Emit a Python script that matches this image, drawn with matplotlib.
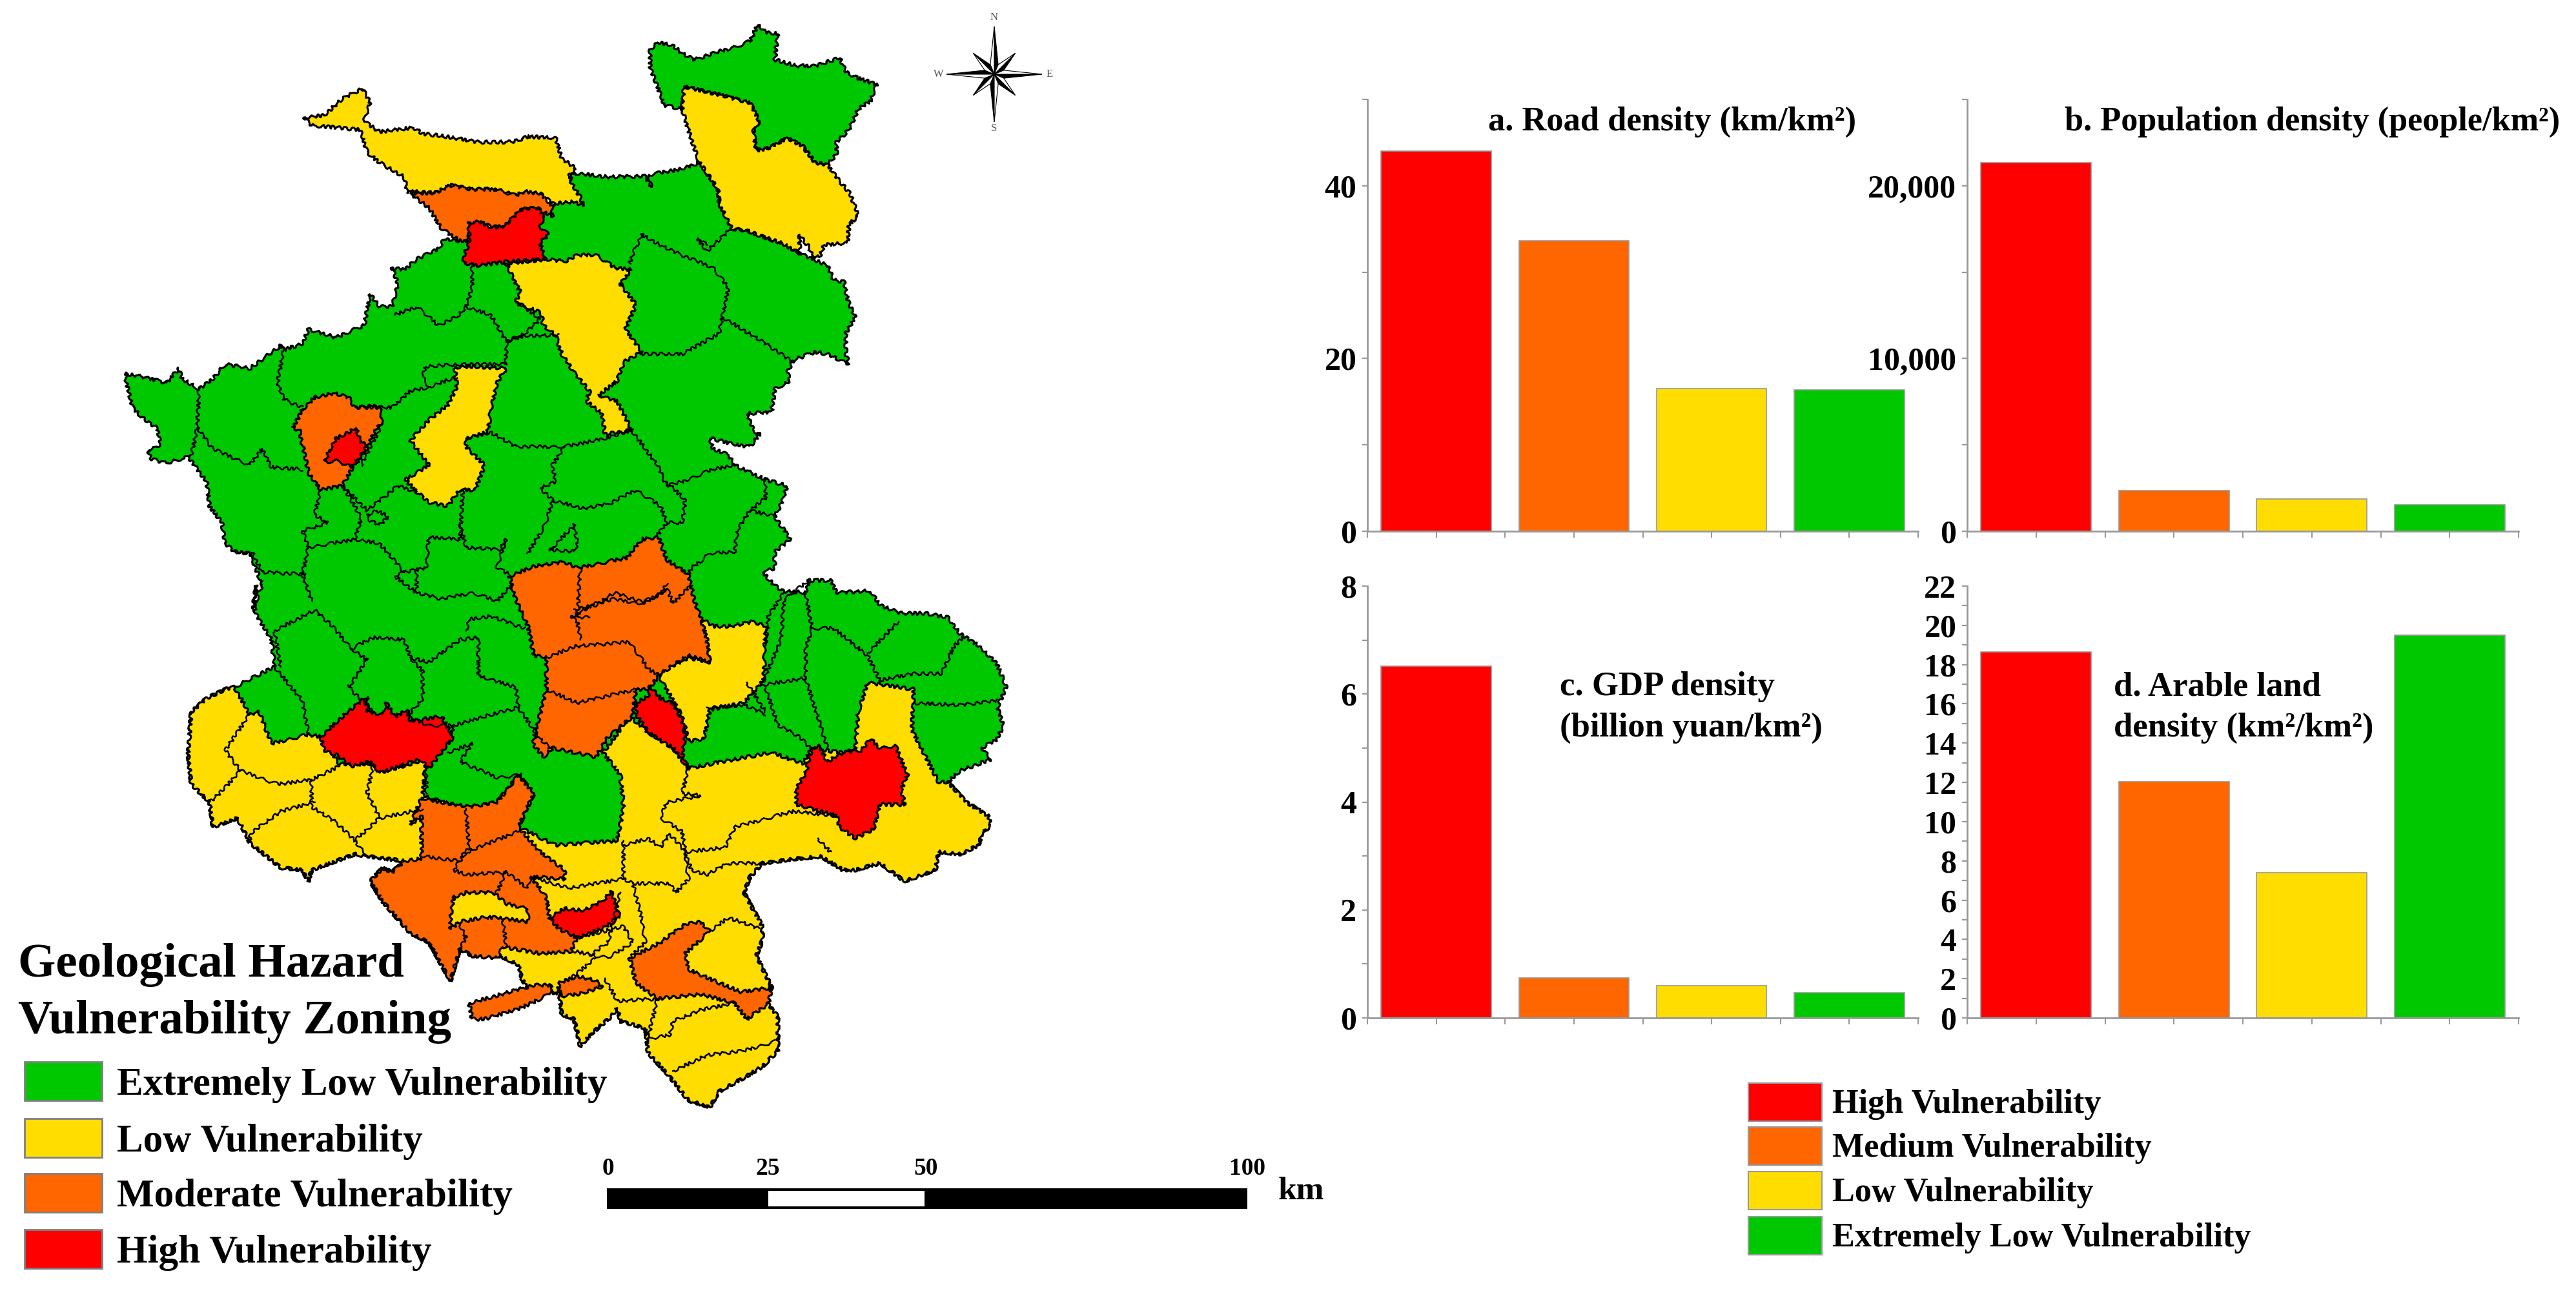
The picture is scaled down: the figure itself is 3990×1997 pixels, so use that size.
import numpy as np
import matplotlib
matplotlib.use("Agg")
import matplotlib.pyplot as plt
from matplotlib.patches import Polygon, Rectangle

plt.rcParams["font.family"] = ["Liberation Serif", "DejaVu Serif"]
plt.rcParams["font.weight"] = "bold"

RED, ORANGE, YELLOW, GREEN = "#FF0000", "#FF6600", "#FFDD00", "#00C800"
BAR_COLORS = [RED, ORANGE, YELLOW, GREEN]

# bar values
road = [44.05, 33.6, 16.5, 16.4]
population = [21340, 2350, 1850, 1530]
gdp = [6.52, 0.74, 0.595, 0.47]
arable = [18.66, 12.04, 7.40, 19.51]

road_ticks = [0, 10, 20, 30, 40, 50]
road_labels = ["0", "", "20", "", "40", ""]
pop_ticks = [0, 5000, 10000, 15000, 20000, 25000]
pop_labels = ["0", "", "10,000", "", "20,000", ""]
gdp_ticks = [0, 1, 2, 3, 4, 5, 6, 7, 8]
gdp_labels = ["0", "", "2", "", "4", "", "6", "", "8"]
ara_ticks = list(range(23))
ara_labels = [str(i) if i % 2 == 0 else "" for i in ara_ticks]

map_legend = ["Extremely Low Vulnerability", "Low Vulnerability", "Moderate Vulnerability", "High Vulnerability"]
bar_legend = ["High Vulnerability", "Medium Vulnerability", "Low Vulnerability", "Extremely Low Vulnerability"]

# map outlines, two tracing frames (N = upper part, S = lower part)
north_rim = [(825,420),(880,430),(940,428),(950,455),(945,425),(1000,410),(1028,395),(1058,460),(1060,495),(1080,555),
             (1105,560),(1130,575),(1160,590),(1190,615),(1235,645),(1245,680),(1262,685),(1268,730),(1280,770),(1265,810),
             (1265,860),(1270,885),(1235,860),(1215,855),(1180,875),(1170,905),(1175,925),(1150,945),(1145,1000),(1105,1005),
             (1115,1045),(1125,1055),(1110,1085),(1085,1080),(1060,1070),(1045,1065),(1050,1090),(1075,1105),(1085,1130),
             (1135,1165),(1170,1180),(1160,1225),(1150,1255),(1175,1310),(1150,1340),(1150,1380),(1130,1390),(1145,1415),
             (1160,1435),(1200,1440),(1205,1410),(1240,1410),(1250,1440),(1305,1435),(1320,1470),(1355,1490),(1395,1490),
             (1430,1500),(1450,1540),(1480,1568)]
east_rim = [(1510,185),(1525,235),(1510,280),(1520,320),(1510,350),(1485,370),(1500,395),(1480,405),(1450,420),(1430,445),(1460,490)]
south_rim = [(1495,520),(1500,540),(1485,560),(1480,585),(1450,605),(1415,600),(1410,640),(1360,665),(1320,625),(1280,640),
             (1260,640),(1225,610),(1185,615),(1130,625),(1110,655),(1100,690),(1130,765),(1130,795),(1120,830),(1145,900),
             (1135,930),(1155,965),(1155,1040),(1130,1075),(1100,1100),(1060,1130),(1045,1165),(1010,1150),(975,1090),(945,1045),
             (940,990),(900,975),(895,945),(885,965),(855,1000),(835,1030),(825,970),(805,960),(800,900),(795,915),(780,900),
             (760,925),(740,880),(735,850),(705,830),(660,830),(640,815),(625,885),(610,850),(590,800),(560,780),(515,710),
             (495,665),(515,635),(530,645),(550,620),(520,615),(470,605),(400,640),(395,665),(385,640),(350,635),(300,580),
             (280,525),(240,545),(235,490),(205,450),(200,385),(205,290),(230,260),(260,240),(275,235)]
west_s = [(340,190),(335,130),(308,70),(310,10)]
west_n = [(305,1480),(320,1420),(300,1345),(275,1340),(260,1320),(255,1270),(235,1230),(230,1170),(200,1110),(165,1125),
          (140,1115),(135,1095),(155,1080),(150,1040),(130,1020),(110,990),(97,908),(125,915),(165,930),(185,895),(190,920),
          (218,945),(240,920),(260,885),(300,895),(350,840),(355,850),(385,835),(395,800),(440,820),(485,790),(495,715),
          (510,745),(530,745),(540,690),(530,650),(550,655),(570,630),(605,605),(615,580),(640,585),(700,560),(790,500)]

ne_green = [(948,120),(960,103),(985,110),(1000,130),(1020,145),(1060,125),(1090,112),(1110,100),(1122,60),(1135,78),(1155,82),
            (1150,145),(1185,160),(1215,160),(1255,140),(1265,175),(1285,190),(1315,205),(1305,245),(1285,265),(1270,315),
            (1250,345),(1250,375),(1235,400),(1215,395),(1195,355),(1170,335),(1140,360),(1120,365),(1115,320),(1125,295),
            (1110,250),(1060,230),(1005,210),(1000,265),(970,255),(960,210),(948,165)]
ne_yellow = [(1003,210),(1060,230),(1110,250),(1125,295),(1115,320),(1120,365),(1140,360),(1170,335),(1195,355),(1215,395),
             (1235,400),(1255,440),(1272,470),(1285,525),(1270,545),(1268,590),(1230,595),(1222,625),(1210,620),(1205,600),
             (1190,570),(1190,615),(1160,590),(1130,575),(1105,560),(1080,555),(1060,495),(1058,460),(1040,420),(1028,395),
             (1015,340),(1000,265)]
top_yellow = [(388,285),(420,280),(450,240),(482,215),(495,250),(485,295),(510,320),(565,310),(580,325),(610,330),(670,345),
              (725,345),(750,332),(795,335),(805,385),(828,410),(815,430),(835,480),(840,500),(825,490),(790,495),(770,470),
              (745,470),(730,475),(700,460),(660,460),(625,450),(600,468),(555,465),(550,430),(510,395),(490,370),(478,315),
              (440,310),(400,305)]
mid_yellow = [(715,640),(780,630),(810,635),(830,620),(860,618),(890,650),(918,655),(900,690),(925,740),(908,800),(935,855),
              (905,880),(895,925),(865,960),(895,975),(918,1045),(875,1055),(870,1005),(845,975),(850,950),(825,905),(805,860),
              (795,815),(775,790),(772,760),(730,735),(738,710)]
west_yellow = [(632,892),(660,890),(715,895),(700,930),(690,1000),(685,1050),(650,1065),(650,1085),(680,1130),(665,1190),
               (640,1190),(620,1230),(590,1220),(570,1195),(552,1165),(590,1130),(560,1070),(590,1020),(620,985),(635,940)]
north_orange = [(560,470),(600,468),(625,450),(660,460),(700,460),(730,475),(745,465),(770,470),(790,500),(790,525),(775,515),
                (765,505),(740,510),(725,535),(710,553),(690,550),(672,540),(655,545),(655,585),(640,585),(610,555),(590,505)]
north_red = [(655,540),(672,538),(690,552),(712,550),(725,530),(740,508),(765,505),(778,525),(770,550),(783,570),(770,590),
             (778,630),(720,635),(670,645),(648,640),(645,625),(655,590)]
west_orange = [(385,995),(405,965),(435,955),(460,965),(470,990),(510,985),(515,1020),(500,1055),(490,1090),(465,1140),(450,1180),
               (415,1190),(395,1150),(388,1100),(380,1045),(370,1040)]
west_red = [(428,1095),(440,1065),(472,1040),(478,1070),(490,1085),(465,1135),(440,1120),(422,1122)]

center_orange_n = [(720,1400),(760,1375),(810,1365),(830,1380),(910,1355),(935,1310),(962,1305),(975,1360),(1010,1395),(1020,1460),(1030,1500)]
center_orange_s = [(1040,130),(1045,180),(1010,165),(965,205),(945,240),(925,240),(920,300),(880,345),(860,390),(790,370),(775,390),
                   (758,360),(780,240),(780,170),(760,165),(750,100),(730,40)]
center_yellow = [(1030,80),(1050,100),(1080,100),(1115,90),(1135,100),(1132,220),(1100,270),(1045,285),(1035,350),(1010,355),
                 (1000,300),(960,205),(1010,170),(1045,180)]
center_red = [(948,232),(965,260),(985,270),(1000,310),(1005,345),(1000,380),(1010,415),(985,370),(945,335),(925,295),(925,270),(945,255)]

yellow_top_s = [(275,235),(300,295),(315,290),(335,360),(395,340),(415,345),(445,405),(500,405),(510,425),(585,395),(580,475),
                (650,505),(700,490),(735,430),(760,470),(735,545),(795,585),(895,575),(905,500),(900,430),(872,380),(915,300),
                (945,335),(985,370),(1010,415),(1085,395),(1145,380),(1195,405),(1210,370),(1255,380),(1280,375),(1285,290),
                (1300,225),(1375,240),(1372,330),(1415,445),(1430,445),(1460,490)]
sw_orange = [(578,480),(610,490),(655,500),(700,490),(735,430),(760,470),(735,545),(770,600),(810,640),(810,660),(755,655),(780,700),
             (785,745),(815,770),(830,790),(820,820),(770,825),(710,810),(700,835),(660,830),(640,815),(625,885),(610,850),(590,800),
             (560,780),(515,710),(495,665),(515,635),(530,645),(550,620),(578,615),(578,520),(560,540)]
sw_hole = [(625,740),(630,700),(650,690),(695,690),(715,715),(750,725),(750,755),(700,745),(680,745),(640,755),(625,770)]
se_orange = [(915,835),(965,800),(1005,760),(1030,755),(1045,775),(1005,825),(1010,860),(1060,890),(1095,910),(1145,900),(1140,935),
             (1105,970),(1085,935),(1030,915),(960,925),(925,890)]
small_orange = [(800,905),(800,890),(830,875),(860,885),(870,900),(830,915),(805,920)]
strip_orange = [(655,935),(760,895),(790,895),(785,915),(740,945),(680,970),(660,970)]
west_red_s = [(415,345),(450,300),(490,255),(490,290),(515,295),(520,270),(535,300),(555,285),(560,310),(610,300),(630,345),
              (610,380),(590,415),(575,395),(510,425),(495,400),(465,410),(440,385),(420,375)]
east_red = [(1210,370),(1222,365),(1235,400),(1260,380),(1290,375),(1305,350),(1320,370),(1345,365),(1365,430),(1355,460),(1360,495),
            (1320,495),(1310,550),(1280,570),(1255,545),(1250,520),(1185,495),(1185,460),(1200,425)]
south_red = [(785,745),(810,725),(840,730),(870,710),(885,688),(900,745),(870,770),(830,790),(800,770)]

# county borders
borders_n = [
    [(925,600),(935,570),(970,600),(1000,620),(1050,650),(1075,700),(1065,770),(1060,810),(1000,860),(935,860)],
    [(925,600),(915,640)], [(1065,770),(1130,830),(1180,880)], [(1040,595),(1025,580),(1040,610),(1080,555)],
    [(660,645),(660,700),(650,745),(635,770),(605,790),(570,745),(535,765)],
    [(650,745),(690,765),(715,830)], [(735,735),(770,775),(745,810),(715,830),(715,885)], [(715,830),(745,815),(800,815)],
    [(355,850),(345,930),(355,970),(385,990)],
    [(715,885),(640,885),(585,890),(580,915),(590,940),(560,950),(530,990),(470,990)], [(590,940),(635,915)],
    [(218,945),(215,1040),(240,1090),(300,1130),(320,1090),(335,1135),(385,1140)], [(215,1040),(205,1110)],
    [(515,1030),(480,1130)],
    [(450,1180),(490,1240),(540,1180),(570,1195)],
    [(415,1190),(405,1250),(425,1270),(385,1290),(395,1330),(470,1310),(480,1260),(470,1230),(450,1180)],
    [(470,1310),(510,1320),(550,1390),(585,1380),(590,1305),(640,1310),(645,1190)],
    [(640,1270),(650,1330),(705,1335),(715,1310),(700,1380),(720,1395)],
    [(650,1065),(690,1050),(730,1085),(810,1085),(875,1065),(918,1045)],
    [(810,1085),(790,1130),(795,1170),(770,1185),(790,1215),(780,1270),(750,1345)],
    [(790,1215),(840,1235),(880,1225),(925,1190),(965,1230),(975,1270),(960,1300)],
    [(918,1045),(960,1130),(975,1180),(1000,1170),(1050,1140),(1085,1130)],
    [(975,1170),(1005,1215),(1000,1270),(975,1270)],
    [(1150,1255),(1110,1240),(1090,1285),(1085,1340),(1045,1345),(1015,1380),(1010,1395)], [(1135,1165),(1135,1210),(1110,1240)],
    [(395,1330),(385,1395),(400,1460)], [(275,1340),(305,1345),(320,1390),(390,1395)],
    [(550,1390),(535,1400),(570,1440),(610,1455),(660,1440),(700,1460),(725,1420)], [(570,1380),(570,1440)],
    [(490,1250),(505,1240),(525,1255),(510,1275),(495,1265),(490,1250)],
    [(790,1330),(825,1275),(830,1320),(825,1340),(785,1335),(790,1330)],
    [(1165,1440),(1140,1495),(1135,1568)], [(1200,1440),(1210,1525)],
    [(825,1480),(860,1470),(890,1440),(940,1465),(975,1430),(985,1465),(1015,1420)], [(850,1500),(830,1500),(835,1380)],
]
borders_s = [
    [(340,110),(405,65),(430,95),(465,150),(500,125),(550,130),(560,170),(590,180),(640,130),(670,125),(670,210),(730,235),(735,280),(680,300),(630,320),(625,345)],
    [(465,150),(490,175),(460,235),(500,290)], [(340,190),(385,265),(395,340)],
    [(650,110),(655,85),(690,78),(745,105)], [(560,170),(580,200),(580,260),(555,300),(590,320),(630,320)], [(735,280),(770,350),(790,375)],
    [(620,380),(660,360),(640,400),(700,435),(740,430)], [(585,415),(585,470)], [(340,110),(350,190)],
    [(1130,225),(1160,130),(1165,40),(1205,0)], [(1130,230),(1200,215),(1200,150),(1210,105),(1245,105),(1300,165),(1320,220),(1375,205),(1420,205),(1440,145),(1455,125)],
    [(1300,160),(1350,90)], [(1375,270),(1450,275),(1510,265)], [(1105,225),(1135,290)], [(1135,235),(1155,320),(1190,345),(1210,375)],
    [(1040,280),(1100,275),(1135,295)], [(1200,215),(1235,370)],
    [(835,130),(830,90),(820,80),(860,50),(890,40),(930,50),(965,30),(975,5)],
    [(780,170),(825,145),(915,135),(945,195),(965,210)], [(780,240),(830,270),(925,240)],
    [(300,295),(260,375),(285,420),(345,450),(400,440),(445,410)], [(285,420),(255,465),(235,490)],
    [(400,440),(400,500),(440,535),(470,575),(490,610)], [(405,490),(350,510),(300,560),(300,580)],
    [(500,405),(490,470),(510,525),(470,575)], [(510,525),(580,505)],
    [(905,575),(905,660),(920,670),(935,750),(940,800),(915,835)],
    [(905,585),(945,570),(965,590),(980,560),(1005,600),(1010,660),(990,690),(980,670),(920,670)],
    [(1005,600),(1070,590),(1085,545),(1180,510),(1250,520)], [(1005,600),(1015,640),(1040,650),(1075,625),(1130,625)],
    [(1220,570),(1240,600)], [(1010,415),(1000,470),(1030,475),(975,490),(965,525),(1000,555),(1005,600)],
    [(905,660),(815,680),(755,655)], [(900,690),(880,800),(850,830)], [(830,790),(905,765),(920,800),(880,835),(825,820)],
    [(860,835),(820,880)], [(875,880),(895,930),(960,925)], [(960,925),(945,1010)],
    [(1085,935),(1030,950),(985,975),(980,1005),(945,1015)], [(985,1085),(1040,1050),(1100,1040),(1150,1020)], [(1045,775),(1075,745),(1125,770)],
    [(650,505),(655,590),(640,620),(580,610)], [(640,620),(630,640),(650,650),(715,645),(750,680),(755,655)], [(715,645),(700,690)],
    [(640,760),(650,790),(640,815)], [(710,750),(715,810)], [(735,555),(660,595),(640,610)],
]


def n(pts):
    return [(100 + x / 1.0453, y / 1.568) for x, y in pts]


def s(pts):
    return [(100 + x / 1.0453, 900 + y / 1.429) for x, y in pts]


fig = plt.figure(figsize=(39.9, 19.97), dpi=100)
W, H = 3990.0, 1997.0

bg = fig.add_axes([0, 0, 1, 1])
bg.set_xlim(0, W)
bg.set_ylim(H, 0)
bg.axis("off")

SKETCH = (2.5, 18, 6)  # borders are jagged in the original


def region(pts, color):
    p = Polygon(pts, closed=True, fc=color, ec="black", lw=2.2, joinstyle="round")
    p.set_sketch_params(*SKETCH)
    bg.add_patch(p)


region(n(north_rim) + s(east_rim) + s(south_rim) + s(west_s) + n(west_n), GREEN)
region(n(ne_green), GREEN)
region(n(ne_yellow), YELLOW)
region(n(top_yellow), YELLOW)
region(n(mid_yellow), YELLOW)
region(n(west_yellow), YELLOW)
region(s(yellow_top_s + south_rim), YELLOW)
region(s(center_yellow), YELLOW)
region(n(north_orange), ORANGE)
region(n(west_orange), ORANGE)
region(n(center_orange_n) + s(center_orange_s), ORANGE)
region(s(sw_orange), ORANGE)
region(s(sw_hole), YELLOW)
region(s(se_orange), ORANGE)
region(s(small_orange), ORANGE)
region(s(strip_orange), ORANGE)
region(n(north_red), RED)
region(n(west_red), RED)
region(s(center_red), RED)
region(s(west_red_s), RED)
region(s(east_red), RED)
region(s(south_red), RED)

for b in borders_n:
    xy = np.array(n(b))
    bg.plot(xy[:, 0], xy[:, 1], color="black", lw=1.8)[0].set_sketch_params(*SKETCH)
for b in borders_s:
    xy = np.array(s(b))
    bg.plot(xy[:, 0], xy[:, 1], color="black", lw=1.8)[0].set_sketch_params(*SKETCH)

# compass
cx, cy = 1540, 115
for i in range(8):
    a = np.deg2rad(i * 45)
    r = 74 if i % 2 == 0 else 46
    tip = (cx + r * np.sin(a), cy - r * np.cos(a))
    for side, col in ((1, "black"), (-1, "white")):
        b = a + side * np.deg2rad(22.5)
        sh = (cx + 16 * np.sin(b), cy - 16 * np.cos(b))
        bg.add_patch(Polygon([(cx, cy), sh, tip], closed=True, fc=col, ec="black", lw=0.8, zorder=5))
for lab, dx, dy in (("N", 0, -88), ("S", 0, 84), ("W", -86, 0), ("E", 86, 0)):
    bg.text(cx + dx, cy + dy, lab, ha="center", va="center", fontsize=12, color="#555555", fontweight="normal")

# map legend
bg.text(28, 1495, "Geological Hazard", fontsize=54, va="center", ha="left", color="black")
bg.text(28, 1583, "Vulnerability Zoning", fontsize=54, va="center", ha="left", color="black")
for lab, col, y0 in zip(map_legend, [GREEN, YELLOW, ORANGE, RED], [1645, 1733, 1818, 1905]):
    bg.add_patch(Rectangle((38, y0), 120, 60, fc=col, ec="#808080", lw=2))
    bg.text(181, y0 + 36, lab, fontsize=44, va="center", ha="left", color="black")

# scale bar
bg.add_patch(Rectangle((940, 1841), 992, 32, fc="black", ec="black", lw=0))
bg.add_patch(Rectangle((1190, 1845), 242, 24, fc="white", ec="none"))
for lab, x in (("0", 942), ("25", 1189), ("50", 1434), ("100", 1932)):
    bg.text(x, 1810, lab, fontsize=27, ha="center", va="center")
bg.text(2015, 1846, "km", fontsize=37, ha="center", va="center")

# bar legend
for lab, col, y0 in zip(bar_legend, BAR_COLORS, [1678, 1746, 1815, 1885]):
    bg.add_patch(Rectangle((2708, y0), 114, 59, fc=col, ec="#999999", lw=1.5))
    bg.text(2838, y0 + 33, lab, fontsize=37.6, va="center", ha="left", color="black")


def panel(x0, x1, ytop, ybot, vals, ymax, ticks, labels):
    ax = fig.add_axes([x0 / W, 1 - ybot / H, (x1 - x0) / W, (ybot - ytop) / H])
    ax.patch.set_alpha(0)
    ax.bar(range(4), vals, width=0.8, color=BAR_COLORS, edgecolor="#999999", linewidth=1.2)
    ax.set_xlim(-0.5, 3.5)
    ax.set_ylim(0, ymax)
    ax.set_yticks(ticks)
    ax.set_yticklabels(labels, fontsize=36)
    ax.set_xticks(np.arange(-0.5, 4, 0.5))
    ax.set_xticklabels([])
    for sp in ("top", "right"):
        ax.spines[sp].set_visible(False)
    for sp in ("left", "bottom"):
        ax.spines[sp].set_color("#999999")
        ax.spines[sp].set_linewidth(2)
    ax.tick_params(axis="y", color="#999999", width=1.5, length=6, pad=6)
    ax.tick_params(axis="x", color="#999999", width=1.5, length=7)
    return ax


panel(2118, 2971, 154, 823, road, 50, road_ticks, road_labels)
panel(3047, 3901, 154, 823, population, 25000, pop_ticks, pop_labels)
panel(2118, 2971, 908, 1577, gdp, 8, gdp_ticks, gdp_labels)
panel(3047, 3901, 908, 1577, arable, 22, ara_ticks, ara_labels)

bg.set_zorder(0)
bg.text(2305, 189, "a. Road density (km/km²)", fontsize=37.8, va="center", ha="left")
bg.text(3198, 189, "b. Population density (people/km²)", fontsize=37.6, va="center", ha="left")
bg.text(2416, 1064, "c. GDP density", fontsize=38, va="center", ha="left")
bg.text(2416, 1128, "(billion yuan/km²)", fontsize=38, va="center", ha="left")
bg.text(3274, 1064, "d. Arable land", fontsize=38, va="center", ha="left")
bg.text(3274, 1128, "density (km²/km²)", fontsize=38, va="center", ha="left")

fig.savefig("out.png", dpi=100, facecolor="white")
